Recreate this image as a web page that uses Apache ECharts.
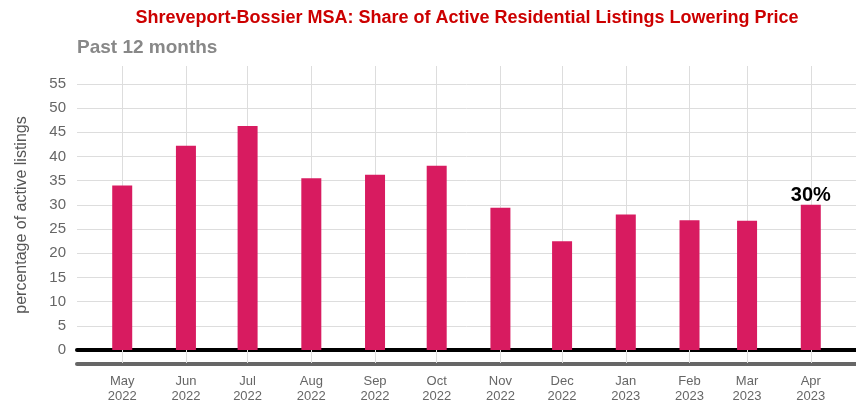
<!DOCTYPE html>
<html>
<head>
<meta charset="utf-8">
<script src="https://cdn.jsdelivr.net/npm/echarts@6/dist/echarts.min.js"></script>
<style>
  html, body { margin: 0; padding: 0; background: #fff; }
  #chart { width: 856px; height: 404px; }
</style>
</head>
<body>
<div id="chart"></div>
<script>
// Month starts (year, monthIndex) for the trailing 12 months
const months = [
  [2022, 4], [2022, 5], [2022, 6], [2022, 7], [2022, 8], [2022, 9],
  [2022, 10], [2022, 11], [2023, 0], [2023, 1], [2023, 2], [2023, 3]
];
const monthNames = ['Jan','Feb','Mar','Apr','May','Jun','Jul','Aug','Sep','Oct','Nov','Dec'];
// Share of active residential listings with a price cut (%)
const shareLowering = [34.0, 42.2, 46.3, 35.5, 36.2, 38.1, 29.4, 22.5, 28.0, 26.8, 26.7, 30];
const yTicks = [0, 5, 10, 15, 20, 25, 30, 35, 40, 45, 50, 55];

// Dates are placed on a linear day scale so month lengths show in the spacing
const DAY = 86400000;
const origin = Date.UTC(months[0][0], months[0][1], 1);
const monthDays = months.map(([y, m]) => (Date.UTC(y, m, 1) - origin) / DAY);
const xMin = monthDays[0] - 22;
const xMax = monthDays[monthDays.length - 1] + 22;
const lastIdx = shareLowering.length - 1;

function monthLabel(v) {
  const d = new Date(origin + v * DAY);
  return monthNames[d.getUTCMonth()] + '\n' + d.getUTCFullYear();
}

const chart = echarts.init(document.getElementById('chart'), null, { renderer: 'canvas' });
const FONT = '"Liberation Sans", Arial, sans-serif';

chart.setOption({
  animation: false,
  backgroundColor: '#ffffff',
  textStyle: { fontFamily: FONT },
  title: [
    {
      text: 'Shreveport-Bossier MSA: Share of Active Residential Listings Lowering Price',
      left: 467, top: 9, padding: 0, textAlign: 'center',
      textStyle: { color: '#cc0000', fontWeight: 'bold', fontSize: 18, fontFamily: FONT }
    },
    {
      text: 'Past 12 months',
      left: 77, top: 38, padding: 0,
      textStyle: { color: '#888888', fontWeight: 'bold', fontSize: 19, fontFamily: FONT }
    }
  ],
  grid: { left: 77, right: 0, top: 66, bottom: 54, containLabel: false },
  xAxis: [
    {
      type: 'value',
      min: xMin, max: xMax,
      axisLine: { show: true, onZero: false, lineStyle: { color: '#000000', width: 4 } },
      axisTick: {
        show: true, length: 13, customValues: monthDays,
        lineStyle: { color: '#dddddd', width: 1 }
      },
      axisLabel: {
        customValues: monthDays,
        margin: 24,
        color: '#666666', fontSize: 13, lineHeight: 15, fontFamily: FONT,
        formatter: monthLabel
      },
      splitLine: { show: true, lineStyle: { color: '#dddddd', width: 1 } }
    },
    {
      type: 'value',
      min: xMin, max: xMax,
      position: 'bottom',
      offset: 14,
      axisLine: { show: true, onZero: false, lineStyle: { color: '#666666', width: 4 } },
      axisTick: { show: false },
      axisLabel: { show: false },
      splitLine: { show: false }
    }
  ],
  yAxis: {
    type: 'value',
    min: 0, max: 58.7,
    name: 'percentage of active listings',
    nameLocation: 'middle',
    nameGap: 47,
    nameTextStyle: { color: '#555555', fontSize: 16, fontFamily: FONT, padding: [0, 14, 0, 0] },
    axisLine: { show: false },
    axisTick: { show: false, customValues: yTicks },
    axisLabel: {
      customValues: yTicks,
      margin: 11,
      color: '#666666', fontSize: 15, fontFamily: FONT
    },
    splitLine: { show: true, lineStyle: { color: '#dddddd', width: 1 } }
  },
  series: [
    {
      type: 'bar',
      xAxisIndex: 0,
      barWidth: 20,
      data: monthDays.map((t, i) => [t, shareLowering[i]]),
      itemStyle: { color: '#d81b60' },
      label: {
        show: true,
        position: 'top',
        distance: -1,
        color: '#000000',
        fontWeight: 'bold',
        fontSize: 20,
        fontFamily: FONT,
        formatter: function (p) {
          return p.dataIndex === lastIdx ? Math.round(p.value[1]) + '%' : '';
        }
      },
      z: 3
    }
  ]
});
</script>
</body>
</html>
